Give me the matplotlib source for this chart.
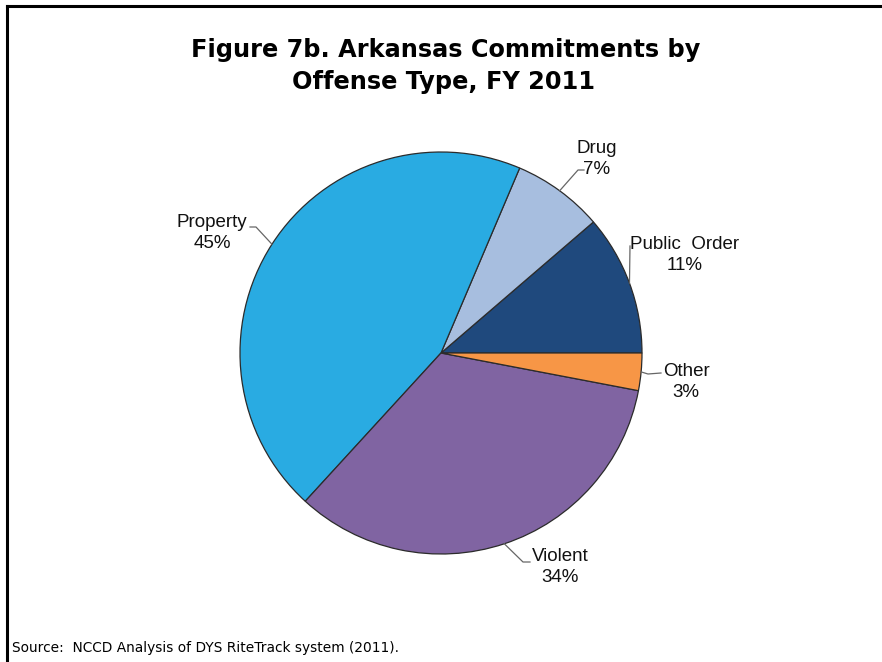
import numpy as np
import matplotlib.pyplot as plt
from matplotlib.lines import Line2D

# slice data, counter-clockwise from 3 o'clock
categories = ["Public  Order", "Drug", "Property", "Violent", "Other"]
shares = [11.3, 7.3, 44.6, 33.8, 3.0]
colors = ["#1F497D", "#A7BEDF", "#29ABE2", "#8064A2", "#F79646"]

W, H = 882, 662
fig = plt.figure(figsize=(W / 100, H / 100), dpi=100)

# pie center and radius in pixels
cx, cy, r = 441, 353, 201
ax = fig.add_axes([(cx - r) / W, (H - cy - r) / H, 2 * r / W, 2 * r / H])
wedges, _ = ax.pie(shares, colors=colors, startangle=0, counterclock=True,
                   radius=1, wedgeprops=dict(edgecolor="#2b2b2b", linewidth=0.9))
ax.set_xlim(-1, 1)
ax.set_ylim(-1, 1)
ax.set_aspect("equal")
ax.axis("off")


def px(x, y):
    return (x - cx) / r, (cy - y) / r


# label text centre and leader elbow / end in pixels
label_pos = {
    "Drug": ((597, 159), (578, 170), (584, 170)),
    "Public  Order": ((685, 255), (630, 246), (630, 246)),
    "Property": ((212, 233), (256, 227), (250, 227)),
    "Violent": ((560, 567), (523, 562), (530, 562)),
    "Other": ((686, 382), (648, 374), (661, 373)),
}

for w, name, val in zip(wedges, categories, shares):
    mid = np.deg2rad((w.theta1 + w.theta2) / 2)
    x0, y0 = np.cos(mid), np.sin(mid)
    (tx, ty), elbow, end = label_pos[name]
    ex, ey = px(*elbow)
    nx, ny = px(*end)
    ax.plot([x0, ex, nx], [y0, ey, ny], color="#666666", lw=0.9, clip_on=False)
    lx, ly = px(tx, ty)
    ax.text(lx, ly, f"{name}\n{round(val)}%", ha="center", va="center",
            fontsize=13.5, family="Liberation Sans", linespacing=1.3, color="#111111")

fig.text(446 / W, 1 - 57 / H, "Figure 7b. Arkansas Commitments by",
         ha="center", va="baseline", fontsize=17.3, fontweight="bold", family="DejaVu Sans")
fig.text(444 / W, 1 - 89 / H, "Offense Type, FY 2011",
         ha="center", va="baseline", fontsize=17.3, fontweight="bold", family="DejaVu Sans")

fig.text(12 / W, 1 - 648 / H, "Source:  NCCD Analysis of DYS RiteTrack system (2011).",
         ha="left", va="center", fontsize=9.9, family="DejaVu Sans")

# frame on top and left
fig.add_artist(Line2D([7 / W, 1], [1 - 6 / H, 1 - 6 / H], color="black", lw=2.2,
                      transform=fig.transFigure))
fig.add_artist(Line2D([7 / W, 7 / W], [1 - 6 / H, 0], color="black", lw=2.2,
                      transform=fig.transFigure))

fig.savefig("out.png", dpi=100)
